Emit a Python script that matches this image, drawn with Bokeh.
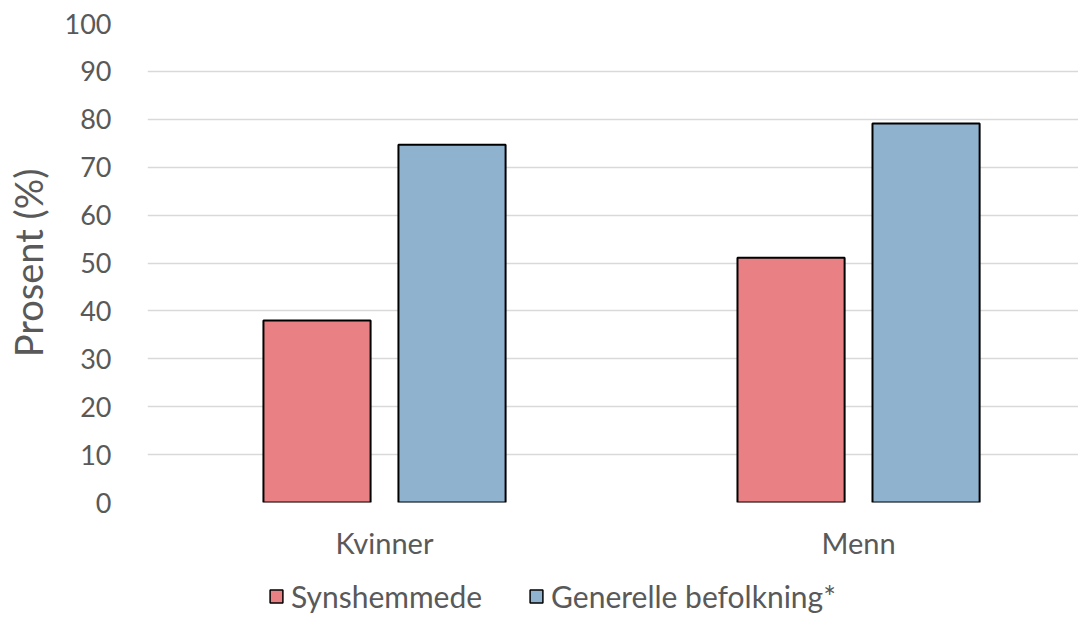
from bokeh.plotting import figure
from bokeh.models import ColumnDataSource, FixedTicker, Legend, LegendItem, Range1d
from bokeh.layouts import column
from bokeh.transform import dodge
from bokeh.embed import file_html
from bokeh.resources import INLINE

categories = ["Kvinner", "Menn"]
synshemmede = [38.0, 51.1]
generelle = [74.7, 79.1]
series_names = ["Synshemmede", "Generelle befolkning*"]
y_ticks = [0, 10, 20, 30, 40, 50, 60, 70, 80, 90, 100]

FONT = "Lato"
TXT = "#595959"
RED = "#E98084"
BLUE = "#8FB3CE"

src = ColumnDataSource(dict(
    x=[i + 0.5 for i in range(len(categories))],
    cat=categories,
    s=synshemmede,
    g=generelle,
))

p = figure(width=1078, height=570, output_backend="svg", toolbar_location=None,
           x_range=Range1d(0, 1.964), y_range=Range1d(0, 100),
           min_border_left=147, min_border_right=0, min_border_top=23,
           min_border_bottom=68)
p.outline_line_color = None

p.vbar(x=dodge("x", -0.1424), top="s", width=0.226, source=src,
       fill_color=RED, line_color="black", line_width=2)
p.vbar(x=dodge("x", 0.1424), top="g", width=0.226, source=src,
       fill_color=BLUE, line_color="black", line_width=2)

p.xgrid.grid_line_color = None
p.ygrid.grid_line_color = "#D9D9D9"
p.ygrid.grid_line_width = 1.5
p.yaxis.ticker = FixedTicker(ticks=y_ticks)
p.xaxis.ticker = FixedTicker(ticks=[i + 0.5 for i in range(len(categories))])
p.xaxis.major_label_overrides = {i + 0.5: c for i, c in enumerate(categories)}

for ax in (p.xaxis[0], p.yaxis[0]):
    ax.axis_line_color = None
    ax.major_tick_line_color = None
    ax.minor_tick_line_color = None
    ax.major_label_text_font = FONT
    ax.major_label_text_color = TXT

p.yaxis.major_label_text_font_size = "27px"
p.xaxis.major_label_text_font_size = "29px"
p.yaxis.major_label_standoff = 30
p.yaxis.axis_label = "Prosent (%)"
p.yaxis.axis_label_text_font = FONT
p.yaxis.axis_label_text_font_size = "38px"
p.yaxis.axis_label_text_font_style = "normal"
p.yaxis.axis_label_text_color = TXT
p.yaxis.axis_label_standoff = 11
p.xaxis.major_label_standoff = 16

# legend strip
lg = figure(width=1078, height=44, output_backend="svg", toolbar_location=None,
            x_range=Range1d(0, 1), y_range=Range1d(0, 1),
            min_border_left=0, min_border_right=0, min_border_top=0,
            min_border_bottom=0)
lg.outline_line_color = None
lg.axis.visible = False
lg.grid.visible = False
e = ColumnDataSource(dict(l=[-10], r=[-9], b=[-10], t=[-9]))
g1 = lg.quad(left="l", right="r", bottom="b", top="t", source=e,
             fill_color=RED, line_color="black", line_width=1.5)
g2 = lg.quad(left="l", right="r", bottom="b", top="t", source=e,
             fill_color=BLUE, line_color="black", line_width=1.5)
legend = Legend(items=[LegendItem(label=series_names[0], renderers=[g1]),
                       LegendItem(label=series_names[1], renderers=[g2])],
                orientation="horizontal", location=(121, 0),
                label_text_font=FONT, label_text_font_size="30px",
                label_text_color=TXT, glyph_width=16, glyph_height=16,
                label_standoff=7, spacing=46, padding=0, margin=0,
                border_line_color=None, background_fill_alpha=0)
lg.add_layout(legend, "center")

layout = column(p, lg, spacing=0)
open("out.html", "w").write(file_html(layout, INLINE))
